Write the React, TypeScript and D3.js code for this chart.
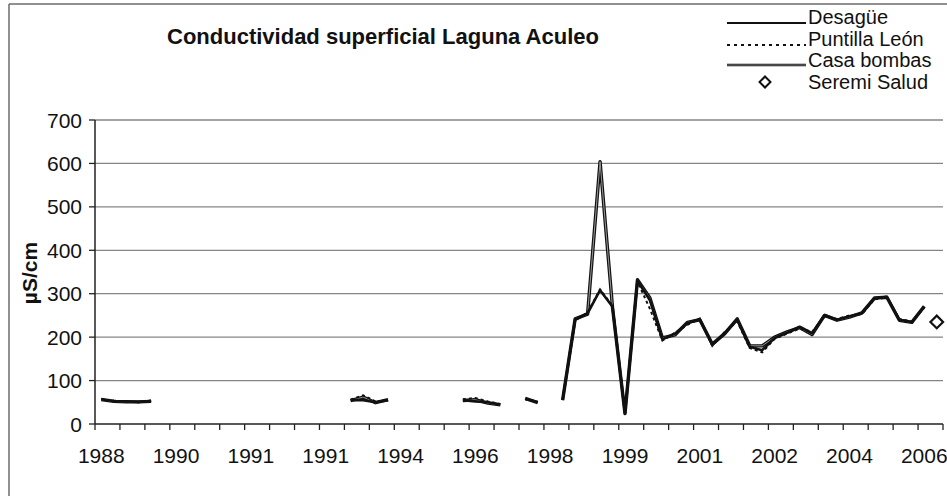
import * as d3 from 'd3';

// sample order along the category axis (68 sampling campaigns)
const categoryCount = 68;
const labelEvery = 6;
const tickEvery = 2;
const yearLabels = ['1988', '1990', '1991', '1991', '1994', '1996', '1998', '1999', '2001', '2002', '2004', '2006'];
const yTicks = [0, 100, 200, 300, 400, 500, 600, 700];

type V = number | null;
const n = null;

const desague: V[] = [
  57, 53, 52, 51, 53, n, n, n, n, n, n, n, n, n, n, n, n, n, n, n,
  55, 55, 50, 55, n, n, n, n, n, 55, 52, 50, 45, n, 58, 50, n, 55,
  240, 255, 308, 270, 25, 330, 285, 195, 208, 232, 241, 182, 210, 240,
  178, 170, 198, 210, 224, 209, 251, 240, 248, 255, 289, 293, 240, 235, 270, n
];
const puntilla: V[] = [
  58, 54, 52, 50, 54, n, n, n, n, n, n, n, n, n, n, n, n, n, n, n,
  56, 66, 52, 54, n, n, n, n, n, 57, 60, 52, 46, n, 57, 51, n, 55,
  238, 257, 310, 272, 27, 328, 265, 192, 210, 228, 243, 180, 212, 236,
  175, 165, 196, 208, 220, 212, 247, 242, 250, 253, 287, 291, 242, 236, 268, n
];
const casaBombas: V[] = [
  56, 52, 51, 51, 52, n, n, n, n, n, n, n, n, n, n, n, n, n, n, n,
  54, 62, 49, 56, n, n, n, n, n, 54, 56, 48, 44, n, 59, 49, n, 55,
  242, 253, 604, 268, 24, 332, 290, 198, 205, 234, 240, 184, 208, 242,
  180, 180, 200, 212, 222, 206, 250, 239, 246, 256, 290, 292, 239, 234, 271, n
];
const seremiIndex = [67];
const seremiSalud = [235];

const FONT = '"Liberation Sans", Arial, sans-serif';

export default function App() {
  const W = 947;
  const H = 496;
  const x = d3.scaleBand<number>().domain(d3.range(categoryCount)).range([95, 943]).padding(0);
  const y = d3.scaleLinear().domain([0, 700]).range([424, 120]);
  const cx = (i: number) => (x(i) as number) + x.bandwidth() / 2;

  const line = d3.line<V>()
    .defined(d => d != null)
    .x((_, i) => cx(i))
    .y(d => y(d as number));

  const tickXs = d3.range(0, categoryCount / tickEvery + 1).map(k =>
    k * tickEvery < categoryCount ? (x(k * tickEvery) as number) : x.range()[1]
  );
  const diamond = d3.symbol().type(d3.symbolSquare).size(80)();
  const diamondSmall = d3.symbol().type(d3.symbolSquare).size(60)();

  const legendX1 = 727;
  const legendX2 = 806;

  return (
    <svg width={W} height={H} style={{ position: 'absolute', left: 0, top: 0, background: '#fff' }}
      fontFamily={FONT}>
      {/* frame */}
      <line x1={9} y1={4} x2={W} y2={4} stroke="#6b6b6b" strokeWidth={1.5} />
      <line x1={9} y1={4} x2={9} y2={H} stroke="#6b6b6b" strokeWidth={1.5} />

      {/* title */}
      <text x={383} y={44} textAnchor="middle" fontSize={22} fontWeight="bold" fill="#111">
        Conductividad superficial Laguna Aculeo
      </text>

      {/* grid */}
      {yTicks.filter(t => t > 0).map(t => (
        <line key={t} x1={95} x2={943} y1={y(t)} y2={y(t)} stroke="#858585" strokeWidth={1.3} />
      ))}

      {/* axes */}
      <line x1={95} x2={95} y1={y(700)} y2={y(0)} stroke="#222" strokeWidth={1.5} />
      <line x1={95} x2={943} y1={y(0)} y2={y(0)} stroke="#222" strokeWidth={1.5} />
      {yTicks.map(t => (
        <g key={t}>
          <line x1={89} x2={95} y1={y(t)} y2={y(t)} stroke="#222" strokeWidth={1.3} />
          <text x={82} y={y(t)} dy="0.36em" textAnchor="end" fontSize={21} fill="#111">{t}</text>
        </g>
      ))}
      {tickXs.map((tx, k) => (
        <line key={k} x1={tx} x2={tx} y1={y(0)} y2={y(0) + 6} stroke="#222" strokeWidth={1.3} />
      ))}
      {yearLabels.map((lab, j) => (
        <text key={j} x={cx(j * labelEvery)} y={463} textAnchor="middle" fontSize={21} fill="#111">{lab}</text>
      ))}
      <text transform="translate(37,273) rotate(-90)" textAnchor="middle" fontSize={21} fontWeight="bold" fill="#111">
        µS/cm
      </text>

      {/* series */}
      <path d={line(casaBombas) ?? ''} fill="none" stroke="#111" strokeWidth={3.4} strokeLinejoin="round" />
      <path d={line(casaBombas) ?? ''} fill="none" stroke="#9a9a9a" strokeWidth={1} strokeLinejoin="round" />
      <path d={line(desague) ?? ''} fill="none" stroke="#111" strokeWidth={2.6} strokeLinejoin="round" />
      <path d={line(puntilla) ?? ''} fill="none" stroke="#111" strokeWidth={2} strokeDasharray="3,3" />
      {seremiSalud.map((v, i) => (
        <path key={i} d={diamond ?? ''} transform={`translate(${cx(seremiIndex[i])},${y(v)}) rotate(45)`}
          fill="#fff" stroke="#111" strokeWidth={2.2} />
      ))}

      {/* legend */}
      <g fontSize={20} fill="#111">
        <line x1={legendX1} x2={legendX2} y1={23} y2={23} stroke="#111" strokeWidth={2.2} />
        <text x={808} y={24}>Desagüe</text>
        <line x1={legendX1} x2={legendX2} y1={45} y2={45} stroke="#111" strokeWidth={1.8} strokeDasharray="3,4" />
        <text x={808} y={46}>Puntilla León</text>
        <line x1={legendX1} x2={legendX2} y1={65} y2={65} stroke="#111" strokeWidth={2.6} />
        <line x1={legendX1} x2={legendX2} y1={65} y2={65} stroke="#9a9a9a" strokeWidth={0.8} />
        <text x={808} y={67}>Casa bombas</text>
        <path d={diamondSmall ?? ''} transform="translate(765,82) rotate(45)" fill="#fff" stroke="#111" strokeWidth={2} />
        <text x={808} y={89}>Seremi Salud</text>
      </g>
    </svg>
  );
}
